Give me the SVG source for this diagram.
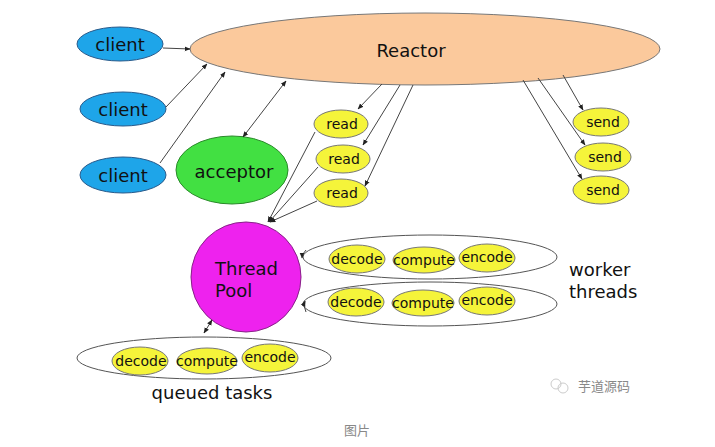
<svg xmlns="http://www.w3.org/2000/svg" width="715" height="447" viewBox="0 0 715 447">
<defs>
<marker id="ah" viewBox="0 0 10 10" refX="9" refY="5" markerWidth="6" markerHeight="6" orient="auto-start-reverse" markerUnits="userSpaceOnUse">
<path d="M0,1 L10,5 L0,9 z" fill="#222"/>
</marker>
<style>
.t{font-family:"DejaVu Sans","Liberation Sans",sans-serif;text-anchor:middle;dominant-baseline:central;fill:#111}
.cl{fill:#1ea5e9;stroke:#2a5a8a;stroke-width:1}
.y{fill:#f5f43a;stroke:#777;stroke-width:1}
.grp{fill:none;stroke:#555;stroke-width:1}
.c{stroke:#444;stroke-width:1;fill:none;marker-end:url(#ah)}
.s15{font-size:14px}
.s19{font-size:18px}
</style>
</defs>
<rect width="715" height="447" fill="#fff"/>
<g id="reactor"><ellipse cx="425" cy="49" rx="235" ry="36" fill="#fbc99c" stroke="#777"/><text class="t s19" x="411" y="50">Reactor</text></g>
<g id="client1"><ellipse class="cl" cx="120" cy="44" rx="43" ry="17"/><text class="t s19" x="120" y="44" fill="#0b2440">client</text></g>
<g id="client2"><ellipse class="cl" cx="123" cy="109" rx="43" ry="17"/><text class="t s19" x="123" y="109">client</text></g>
<g id="client3"><ellipse class="cl" cx="123" cy="175" rx="43" ry="18"/><text class="t s19" x="123" y="175">client</text></g>
<g id="acceptor"><ellipse cx="232" cy="170" rx="56" ry="34" fill="#42e042" stroke="#2a8a2a"/><text class="t s19" x="234" y="171">acceptor</text></g>
<g id="read1"><ellipse class="y" cx="341" cy="124" rx="27" ry="14"/><text class="t s15" x="342" y="124">read</text></g>
<g id="read2"><ellipse class="y" cx="343" cy="159" rx="27" ry="14"/><text class="t s15" x="344" y="159">read</text></g>
<g id="read3"><ellipse class="y" cx="341" cy="193" rx="27" ry="14"/><text class="t s15" x="342" y="193">read</text></g>
<g id="send1"><ellipse class="y" cx="601" cy="122" rx="28" ry="14"/><text class="t s15" x="603" y="122">send</text></g>
<g id="send2"><ellipse class="y" cx="603" cy="157" rx="28" ry="14"/><text class="t s15" x="605" y="157">send</text></g>
<g id="send3"><ellipse class="y" cx="601" cy="190" rx="28" ry="14"/><text class="t s15" x="603" y="190">send</text></g>
<g id="threadpool"><circle cx="246" cy="277" r="55" fill="#ee22ee" stroke="#882288"/><text class="t s19" x="215" y="268" style="text-anchor:start" fill="#55105a">Thread</text><text class="t s19" x="215" y="290" style="text-anchor:start" fill="#55105a">Pool</text></g>
<g id="worker1"><ellipse class="grp" cx="430" cy="257" rx="127" ry="22"/>
<ellipse class="y" cx="357" cy="259" rx="28" ry="14"/><text class="t s15" x="357" y="259">decode</text>
<ellipse class="y" cx="424" cy="260" rx="31" ry="13"/><text class="t s15" x="424" y="260">compute</text>
<ellipse class="y" cx="487" cy="258" rx="28" ry="14"/><text class="t s15" x="487" y="257">encode</text></g>
<g id="worker2"><ellipse class="grp" cx="430" cy="304" rx="127" ry="22"/>
<ellipse class="y" cx="356" cy="302" rx="28" ry="14"/><text class="t s15" x="356" y="302">decode</text>
<ellipse class="y" cx="423" cy="303" rx="31" ry="13"/><text class="t s15" x="423" y="303">compute</text>
<ellipse class="y" cx="487" cy="301" rx="28" ry="14"/><text class="t s15" x="487" y="300">encode</text></g>
<g id="workerlabel"><text class="t s19" x="569" y="269" style="text-anchor:start">worker</text><text class="t s19" x="569" y="291" style="text-anchor:start">threads</text></g>
<g id="queued"><ellipse class="grp" cx="204" cy="358" rx="127" ry="21"/>
<ellipse class="y" cx="140" cy="361" rx="28" ry="14"/><text class="t s15" x="141" y="361">decode</text>
<ellipse class="y" cx="207" cy="361" rx="30" ry="13"/><text class="t s15" x="207" y="361">compute</text>
<ellipse class="y" cx="270" cy="358" rx="28" ry="14"/><text class="t s15" x="270" y="357">encode</text>
<text class="t s19" x="212" y="392">queued tasks</text></g>
<g id="connectors">
<line class="c" x1="163" y1="48" x2="190" y2="49"/>
<line class="c" x1="166" y1="107" x2="207" y2="64"/>
<line class="c" x1="160" y1="163" x2="225" y2="72"/>
<line class="c" x1="243" y1="137" x2="286" y2="81" style="marker-start:url(#ah)"/>
<line class="c" x1="382" y1="84" x2="358" y2="109"/>
<line class="c" x1="400" y1="85" x2="363" y2="145"/>
<line class="c" x1="413" y1="85" x2="365" y2="186"/>
<line class="c" x1="563" y1="75" x2="583" y2="110"/>
<line class="c" x1="538" y1="78" x2="585" y2="145"/>
<line class="c" x1="523" y1="80" x2="582" y2="179"/>
<line class="c" x1="315" y1="132" x2="268" y2="222"/>
<line class="c" x1="318" y1="167" x2="269" y2="222"/>
<line class="c" x1="317" y1="201" x2="270" y2="222"/>
<path class="c" d="M306,250 Q302,254 302,258"/>
<path class="c" d="M306,312 Q303,306 305,301"/>
<line class="c" x1="204" y1="333" x2="212" y2="320" style="marker-start:url(#ah)"/>
</g>
<g id="watermark"><circle cx="556" cy="384" r="5" fill="none" stroke="#ccc"/><circle cx="563" cy="388" r="5" fill="none" stroke="#ccc"/><text x="578" y="391" font-family="'Noto Sans CJK SC',sans-serif" font-size="13" fill="#888">芋道源码</text></g>
<text x="357" y="435" font-family="'Noto Sans CJK SC',sans-serif" font-size="13" fill="#888" text-anchor="middle">图片</text>
</svg>
